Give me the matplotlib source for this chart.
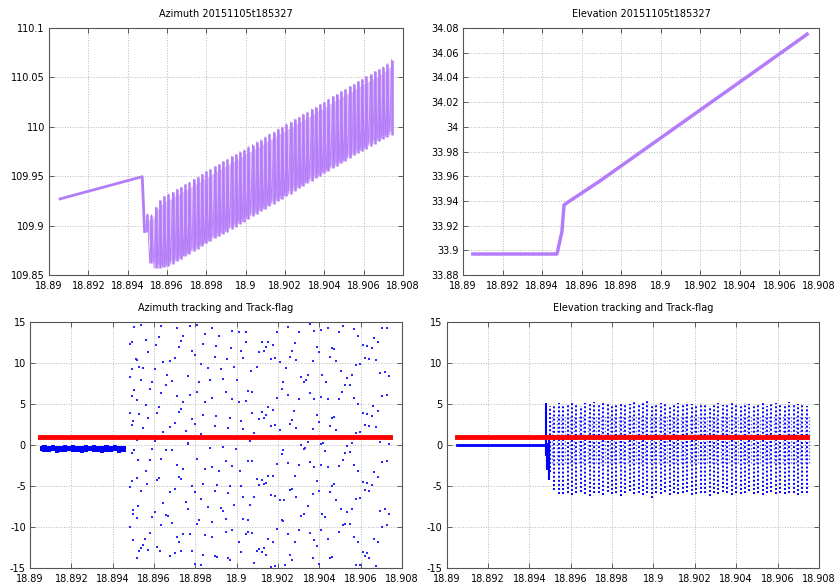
import numpy as np
import matplotlib
matplotlib.use('Agg')
import matplotlib.pyplot as plt
from matplotlib.ticker import FormatStrFormatter

plt.rcParams['axes.unicode_minus'] = False
plt.rcParams['font.family'] = 'DejaVu Sans'

purple = '#b47cf8'
light_purple = '#dcc0fc'

# ---- azimuth (top left) ----
az_pre_t = [18.89056, 18.89474, 18.89486]
az_pre_v = [109.927, 109.9495, 109.894]

# oscillation cycles: peak time, peak value, trough value before the peak
az_t = np.array([18.89500, 18.89521, 18.89543, 18.89564, 18.89586, 18.89607, 18.89628, 18.89650,
                 18.89671, 18.89693, 18.89714, 18.89736, 18.89757, 18.89778, 18.89800, 18.89821,
                 18.89843, 18.89864, 18.89885, 18.89907, 18.89928, 18.89950, 18.89971, 18.89992,
                 18.90014, 18.90035, 18.90057, 18.90078, 18.90099, 18.90121, 18.90142, 18.90164,
                 18.90185, 18.90207, 18.90228, 18.90249, 18.90271, 18.90292, 18.90314, 18.90335,
                 18.90356, 18.90378, 18.90399, 18.90421, 18.90442, 18.90463, 18.90485, 18.90506,
                 18.90528, 18.90549, 18.90570, 18.90592, 18.90613, 18.90635, 18.90656, 18.90678,
                 18.90699, 18.90720, 18.90742])
az_hi = np.array([109.912, 109.911, 109.919, 109.926, 109.930, 109.932, 109.934, 109.937,
                  109.939, 109.942, 109.944, 109.947, 109.949, 109.952, 109.955, 109.957,
                  109.960, 109.962, 109.965, 109.967, 109.970, 109.972, 109.975, 109.977,
                  109.980, 109.982, 109.985, 109.987, 109.990, 109.993, 109.995, 109.998,
                  110.000, 110.003, 110.005, 110.008, 110.010, 110.013, 110.015, 110.018,
                  110.020, 110.023, 110.025, 110.028, 110.031, 110.033, 110.036, 110.038,
                  110.041, 110.043, 110.046, 110.048, 110.051, 110.053, 110.056, 110.058,
                  110.061, 110.064, 110.068])
az_lo = np.array([109.894, 109.862, 109.857, 109.857, 109.858, 109.859, 109.861, 109.864,
                  109.866, 109.869, 109.871, 109.874, 109.876, 109.879, 109.882, 109.884,
                  109.887, 109.889, 109.892, 109.894, 109.897, 109.899, 109.902, 109.904,
                  109.907, 109.910, 109.912, 109.915, 109.917, 109.920, 109.922, 109.925,
                  109.927, 109.930, 109.932, 109.935, 109.938, 109.940, 109.943, 109.945,
                  109.948, 109.950, 109.953, 109.955, 109.958, 109.960, 109.963, 109.965,
                  109.968, 109.971, 109.973, 109.976, 109.978, 109.981, 109.983, 109.986,
                  109.988, 109.990, 109.992])

# ---- elevation (top right) ----
el_t = [18.8905, 18.89475, 18.89500, 18.89511, 18.89540, 18.89691, 18.9000, 18.9030, 18.9060, 18.9074]
el_v = [33.897, 33.897, 33.915, 33.9367, 33.940, 33.956, 33.991, 34.025, 34.059, 34.075]

# ---- azimuth tracking (bottom left) ----
flag_t = [18.8905, 18.9074]
flag_v = [1, 1]

band_t = [18.8905, 18.8907, 18.8909, 18.8911, 18.8913, 18.8915, 18.8917, 18.8919, 18.8921,
          18.8923, 18.8925, 18.8927, 18.8929, 18.8931, 18.8933, 18.8935, 18.8937, 18.8939,
          18.8941, 18.8943, 18.8945, 18.89465]
band_hi = [-0.1, -0.05, -0.1, -0.05, -0.1, -0.1, -0.05, -0.1, -0.05, -0.1, -0.1,
           -0.05, -0.1, -0.05, -0.1, -0.1, -0.05, -0.1, -0.05, -0.1, -0.1, -0.1]
band_lo = [-0.75, -0.85, -0.9, -0.7, -0.95, -0.8, -0.85, -0.75, -0.9, -0.8, -0.95,
           -0.85, -0.7, -0.9, -0.8, -0.95, -0.85, -0.9, -0.75, -0.95, -0.8, -0.85]

scat_t = [
    18.89503, 18.89539, 18.89635, 18.89709, 18.89774, 18.89806, 18.89882, 18.89978, 18.90010, 18.90043,
    18.90075, 18.89624, 18.89742, 18.89849, 18.89914, 18.89560, 18.89492, 18.89484, 18.89732, 18.89611,
    18.89721, 18.89838, 18.89901, 18.89972, 18.90043, 18.90107, 18.90022, 18.89571, 18.89785, 18.89796,
    18.89511, 18.89519, 18.89645, 18.89677, 18.89700, 18.89893, 18.89954, 18.90031, 18.89828, 18.89492,
    18.89527, 18.89548, 18.89603, 18.89861, 18.89925, 18.89989, 18.90070, 18.90096, 18.89484, 18.89664,
    18.89764, 18.89539, 18.89592, 18.89688, 18.89817, 18.89870, 18.89935, 18.90002, 18.89656, 18.89503,
    18.89581, 18.89635, 18.89806, 18.89709, 18.89774, 18.89946, 18.90054, 18.90075, 18.89492, 18.89519,
    18.89742, 18.89849, 18.89882, 18.89978, 18.90010, 18.90043, 18.89560, 18.89624, 18.89732, 18.89721,
    18.89484, 18.89527, 18.89613, 18.89838, 18.89901, 18.89967, 18.90075, 18.89500, 18.89571, 18.89785,
    18.89796, 18.89700, 18.90022, 18.90107, 18.89492, 18.89548, 18.89677, 18.89753, 18.89893, 18.89957,
    18.90031, 18.89645, 18.89828, 18.90086, 18.89539, 18.89516, 18.89603, 18.89764, 18.89925, 18.90064,
    # upper right
    18.90197, 18.90249, 18.90303, 18.90356, 18.90375, 18.90408, 18.90440, 18.90494, 18.90515, 18.90567,
    18.90589, 18.90705, 18.90726, 18.90664, 18.90122, 18.90154, 18.90176, 18.90144, 18.90133, 18.90281,
    18.90387, 18.90398, 18.90459, 18.90470, 18.90610, 18.90631, 18.90653, 18.90685, 18.90270, 18.90165,
    18.90184, 18.90260, 18.90289, 18.90367, 18.90451, 18.90483, 18.90621, 18.90642, 18.90674, 18.90208,
    18.90578, 18.90599, 18.90239, 18.90503, 18.90716, 18.90694, 18.90737, 18.90313, 18.90344, 18.90414,
    18.90535, 18.90557, 18.90324, 18.90335, 18.90430, 18.90526, 18.90546, 18.90225, 18.90217, 18.90356,
    18.90511, 18.90249, 18.90303, 18.90375, 18.90406, 18.90440, 18.90494, 18.90567, 18.90197, 18.90705,
    18.90726, 18.90589, 18.90154, 18.90174, 18.90122, 18.90279, 18.90387, 18.90459, 18.90470, 18.90610,
    18.90631, 18.90653, 18.90685, 18.90662, 18.90144, 18.90133, 18.90268, 18.90398, 18.90165, 18.90184,
    18.90260, 18.90289, 18.90367, 18.90451, 18.90483, 18.90621, 18.90642, 18.90674, 18.90208, 18.90578,
    18.90599, 18.90344, 18.90408, 18.90503, 18.90557, 18.90694, 18.90737,
    # lower left
    18.89492, 18.89503, 18.89592, 18.89656, 18.89688, 18.89764, 18.89870, 18.89935, 18.89999, 18.89524,
    18.89581, 18.89635, 18.89709, 18.89742, 18.89806, 18.89849, 18.89882, 18.89914, 18.89946, 18.89978,
    18.90015, 18.90054, 18.90075, 18.89560, 18.89516, 18.89624, 18.89613, 18.89721, 18.89732, 18.89492,
    18.89568, 18.89785, 18.89838, 18.89903, 18.89957, 18.89967, 18.90022, 18.90096, 18.90107, 18.89484,
    18.89539, 18.89677, 18.89700, 18.89796, 18.89893, 18.90031, 18.90086, 18.89523, 18.89645, 18.89753,
    18.89764, 18.89828, 18.89861, 18.89925, 18.89935, 18.89989, 18.90064, 18.89500, 18.89500, 18.89603,
    18.89656, 18.89667, 18.89592, 18.89516, 18.89688, 18.89806, 18.89817, 18.89882, 18.89946, 18.90031,
    18.90054, 18.89484, 18.89581, 18.89635, 18.89709, 18.89742, 18.89774, 18.89849, 18.89882, 18.89946,
    18.89978, 18.90043, 18.90054, 18.90075, 18.89500, 18.89555, 18.89721, 18.90010, 18.89548, 18.89613,
    18.89527, 18.89539, 18.89571, 18.89629, 18.89700, 18.89732, 18.89785, 18.89838, 18.89893, 18.89903,
    18.89957, 18.89967, 18.90022, 18.90096, 18.90107, 18.89516, 18.89677, 18.89796, 18.89828, 18.90086,
    # lower right
    18.90313, 18.90332, 18.90324, 18.90419, 18.90535, 18.90546, 18.90526, 18.90427, 18.90225, 18.90217,
    18.90737, 18.90197, 18.90249, 18.90303, 18.90356, 18.90376, 18.90408, 18.90440, 18.90494, 18.90515,
    18.90567, 18.90589, 18.90705, 18.90726, 18.90664, 18.90685, 18.90122, 18.90154, 18.90176, 18.90144,
    18.90133, 18.90281, 18.90387, 18.90398, 18.90459, 18.90470, 18.90610, 18.90631, 18.90653, 18.90260,
    18.90270, 18.90165, 18.90184, 18.90208, 18.90228, 18.90289, 18.90367, 18.90451, 18.90483, 18.90578,
    18.90599, 18.90621, 18.90642, 18.90344, 18.90414, 18.90427, 18.90313, 18.90324, 18.90503, 18.90535,
    18.90557, 18.90694, 18.90716, 18.90737, 18.90217, 18.90225, 18.90515, 18.90526, 18.90546, 18.90726,
    18.90705, 18.90197, 18.90249, 18.90303, 18.90356, 18.90376, 18.90408, 18.90440, 18.90494, 18.90567,
    18.90589, 18.90685, 18.90664, 18.90154, 18.90176, 18.90133, 18.90122, 18.90144, 18.90281, 18.90260,
    18.90270, 18.90387, 18.90398, 18.90367, 18.90459, 18.90451, 18.90599, 18.90578, 18.90610, 18.90631,
    18.90621, 18.90642, 18.90674, 18.90165, 18.90184, 18.90236,
]
scat_v = [
    14.35, 14.68, 14.56, 14.27, 14.56, 14.68, 14.23, 13.95, 13.83, 13.74,
    14.96, 13.22, 13.26, 13.54, 13.34, 12.85, 12.61, 12.32, 12.65, 12.24,
    12.00, 12.32, 12.12, 11.83, 12.61, 11.39, 11.51, 11.39, 11.43, 11.02,
    10.49, 10.37, 10.17, 10.29, 10.61, 10.78, 10.49, 10.61, 9.88, 9.27,
    9.56, 9.39, 9.27, 9.39, 9.27, 9.56, 8.99, 9.48, 8.26, 8.58,
    8.46, 7.93, 7.73, 7.77, 7.73, 7.93, 8.05, 7.93, 7.36, 6.71,
    6.83, 6.35, 6.51, 6.02, 6.10, 6.51, 6.55, 6.43, 5.94, 5.49,
    5.29, 5.29, 5.70, 5.61, 5.21, 5.41, 4.88, 4.60, 4.39, 4.07,
    3.87, 3.78, 3.87, 3.66, 3.50, 3.26, 3.87, 2.97, 3.26, 3.17,
    2.57, 2.65, 2.97, 3.17, 2.44, 2.04, 2.24, 1.75, 2.36, 2.08,
    1.96, 1.63, 1.35, 1.43, 1.14, 0.65, 0.45, 0.21, 0.82, 0.53,
    # upper right
    13.74, 14.43, 13.74, 14.76, 13.95, 14.03, 14.27, 13.74, 14.56, 14.15,
    13.34, 14.27, 14.27, 13.05, 12.52, 12.61, 12.20, 12.00, 11.43, 12.40,
    12.00, 11.30, 11.83, 11.71, 12.20, 12.04, 11.79, 12.52, 11.43, 10.49,
    10.61, 10.78, 10.37, 10.21, 10.78, 10.21, 10.61, 10.49, 10.37, 10.09,
    9.76, 9.88, 9.39, 9.07, 8.95, 8.74, 8.46, 8.34, 8.58, 8.54,
    8.17, 8.54, 7.65, 7.93, 7.65, 7.32, 7.32, 7.65, 6.83, 6.35,
    6.51, 6.10, 5.61, 5.61, 5.82, 5.61, 5.61, 5.73, 5.73, 6.02,
    6.10, 5.04, 4.60, 4.31, 4.07, 4.19, 3.70, 3.30, 3.46, 3.87,
    3.78, 3.50, 4.19, 4.72, 3.66, 3.30, 3.09, 2.85, 2.36, 2.44,
    2.57, 2.08, 1.96, 2.36, 1.83, 2.44, 2.28, 2.16, 1.87, 1.47,
    1.63, 0.41, 0.13, 0.74, 0.25, 0.41, 0.74,
    # lower left
    -0.98, -0.57, -0.49, -0.57, -0.65, 0.16, -0.37, -0.25, -0.45, -1.79,
    -1.79, -1.67, -2.40, -2.89, -1.71, -2.89, -2.69, -3.13, -1.91, -2.52,
    -3.13, -1.91, -2.00, -3.13, -4.03, -4.03, -4.31, -3.95, -4.11, -4.43,
    -4.72, -4.96, -4.72, -4.92, -5.86, -5.04, -4.96, -4.11, -4.84, -5.17,
    -5.57, -5.74, -5.33, -5.74, -5.57, -6.39, -6.39, -7.40, -7.08, -6.96,
    -7.77, -6.59, -7.56, -7.69, -8.09, -7.28, -7.28, -7.89, -8.42, -8.22,
    -8.50, -8.70, -8.78, -8.91, -9.52, -9.64, -9.19, -9.43, -8.99, -9.03,
    -9.11, -10.00, -10.74, -9.72, -11.26, -10.85, -10.82, -10.94, -11.26, -10.61,
    -10.41, -10.82, -10.61, -10.74, -11.55, -11.47, -11.87, -11.83, -12.16, -12.44,
    -12.97, -12.56, -12.76, -12.97, -13.17, -12.97, -12.89, -13.38, -13.50, -13.70,
    -13.78, -13.98, -13.05, -12.97, -12.64, -13.78, -13.58, -14.47, -14.67, -14.39,
    # lower right
    0.04, -0.37, -0.49, 0.24, -0.09, -0.85, -0.98, -0.69, -0.57, -1.10,
    0.16, -2.28, -2.20, -2.40, -2.08, -2.73, -2.40, -2.69, -2.61, -1.79,
    -2.48, -3.21, -2.08, -2.00, -3.34, -3.91, -4.23, -3.83, -3.83, -4.64,
    -4.76, -3.83, -4.35, -5.57, -4.96, -4.72, -4.56, -4.64, -4.84, -5.45,
    -5.37, -6.14, -6.18, -6.67, -6.67, -6.39, -5.94, -5.74, -6.67, -6.59,
    -6.47, -5.53, -5.65, -7.48, -8.42, -8.78, -8.62, -8.38, -7.77, -8.17,
    -7.77, -8.09, -7.81, -8.38, -9.11, -9.31, -9.72, -9.64, -9.60, -9.80,
    -10.00, -10.24, -10.82, -10.33, -10.74, -11.55, -10.41, -11.46, -10.61, -11.26,
    -11.87, -11.87, -11.42, -11.42, -11.83, -12.56, -13.09, -13.46, -11.83, -13.46,
    -13.98, -12.36, -14.47, -13.78, -13.66, -13.78, -14.60, -14.60, -13.09, -13.17,
    -13.58, -13.78, -14.80, -14.88, -14.80, -14.68,
]

# ---- elevation tracking (bottom right) ----
elt_base_t = [18.8905, 18.8948]
elt_base_v = [-0.05, -0.05]
elt_spike_t = [18.89482, 18.89488, 18.89493]
elt_spike_hi = [5.1, 0.2, 0.6]
elt_spike_lo = [-1.4, -3.0, -4.3]
elt_hi = np.array([4.8, 4.9, 5.1, 5.0, 4.9, 5.1, 5.0, 4.8, 5.1, 5.0, 5.2, 4.9, 5.1, 5.0, 4.8,
                   5.0, 5.1, 4.9, 5.0, 5.2, 5.0, 5.1, 5.5, 5.0, 4.9, 5.1, 5.0, 4.8, 5.0, 5.1,
                   4.9, 5.2, 5.0, 4.9, 5.1, 5.0, 4.8, 5.0, 5.1, 4.9, 5.0, 5.2, 5.0, 4.8, 5.1,
                   5.0, 4.9, 5.0, 5.1, 4.8, 5.0, 5.1, 4.9, 5.0, 5.2, 4.9, 5.0, 5.0, 4.8])
elt_lo = np.array([-3.3, -5.5, -6.0, -6.0, -5.8, -6.1, -5.9, -5.7, -6.0, -6.2, -5.8, -5.9, -6.1,
                   -5.7, -6.0, -5.8, -6.2, -5.9, -5.6, -6.0, -5.9, -6.1, -5.8, -6.5, -5.9, -6.0,
                   -5.7, -6.1, -5.8, -6.0, -5.9, -5.7, -6.1, -6.0, -5.8, -5.9, -6.2, -5.8, -6.0,
                   -5.7, -5.9, -6.1, -5.8, -6.0, -5.9, -5.6, -6.0, -5.8, -6.1, -5.9, -5.7, -6.0,
                   -5.8, -6.0, -5.9, -5.8, -6.1, -5.9, -5.8])
elt_mid_hi = 3.6
elt_mid_lo = -2.2

xticks = [18.89, 18.892, 18.894, 18.896, 18.898, 18.9, 18.902, 18.904, 18.906, 18.908]
az_yticks = [109.85, 109.9, 109.95, 110, 110.05, 110.1]
el_yticks = [33.88, 33.9, 33.92, 33.94, 33.96, 33.98, 34, 34.02, 34.04, 34.06, 34.08]
trk_yticks = [-15, -10, -5, 0, 5, 10, 15]

fig = plt.figure(figsize=(8.35, 5.86), dpi=100)
ax1 = fig.add_axes([49/835, 311/586, 354/835, 247/586])
ax2 = fig.add_axes([463/835, 311/586, 356/835, 247/586])
ax3 = fig.add_axes([30/835, 18/586, 372/835, 246/586])
ax4 = fig.add_axes([446.5/835, 18/586, 372.5/835, 246/586])

# top left
ax1.fill_between(az_t, az_lo + 0.004, az_hi - 0.006, color=light_purple, lw=0)
ax1.plot(az_pre_t, az_pre_v, color=purple, lw=2)
zig_x = np.ravel(np.column_stack([az_t - 0.00009, az_t]))
zig_y = np.ravel(np.column_stack([az_lo, az_hi]))
ax1.plot(np.r_[az_pre_t[-1], zig_x], np.r_[az_pre_v[-1], zig_y], color=purple, lw=0.6)
ax1.vlines(az_t, az_lo, az_hi, color=purple, lw=1.8)
ax1.set_ylim(109.85, 110.1)
ax1.set_yticks(az_yticks)
ax1.set_title('Azimuth 20151105t185327', fontsize=7, pad=8)

# top right
ax2.plot(el_t, el_v, color=purple, lw=2.5)
ax2.set_ylim(33.88, 34.08)
ax2.set_yticks(el_yticks)
ax2.set_title('Elevation 20151105t185327', fontsize=7, pad=8)

# bottom left
ax3.fill_between(band_t, band_lo, band_hi, color='blue', lw=0, step='mid')
ax3.plot(scat_t, scat_v, ls='none', marker='s', ms=1.6, mew=0, color='#2a2aff')
ax3.plot(flag_t, flag_v, color='red', lw=3.5)
ax3.set_title('Azimuth tracking and Track-flag', fontsize=7, pad=8)

# bottom right
ax4.plot(elt_base_t, elt_base_v, color='blue', lw=2)
ax4.vlines(elt_spike_t, elt_spike_lo, elt_spike_hi, color='blue', lw=1.5)
ax4.vlines(az_t + 0.000107, elt_mid_lo, elt_mid_hi, color='blue', lw=1.0,
           linestyles=(0, (1, 1.5)), alpha=0.6)
ax4.vlines(az_t, elt_lo, elt_hi, color='blue', lw=1.4, linestyles=(0, (1, 1.1)))
ax4.plot(flag_t, flag_v, color='red', lw=3.5)
ax4.set_title('Elevation tracking and Track-flag', fontsize=7, pad=8)

for ax in [ax3, ax4]:
    ax.set_ylim(-15, 15)
    ax.set_yticks(trk_yticks)

for ax in [ax1, ax2, ax3, ax4]:
    ax.set_xlim(18.89, 18.908)
    ax.set_xticks(xticks)
    ax.xaxis.set_major_formatter(FormatStrFormatter('%g'))
    ax.yaxis.set_major_formatter(FormatStrFormatter('%g'))
    ax.grid(True, color='#b8b8b8', ls=':', lw=0.7)
    ax.set_axisbelow(True)
    ax.tick_params(direction='in', top=True, right=True, length=3.5, width=0.6,
                   color='#444444', labelsize=7, pad=3)
    ax.tick_params(axis='x', pad=4.5)
    for s in ax.spines.values():
        s.set_color('#555555')
        s.set_linewidth(0.8)

fig.savefig('out.png', dpi=100)
